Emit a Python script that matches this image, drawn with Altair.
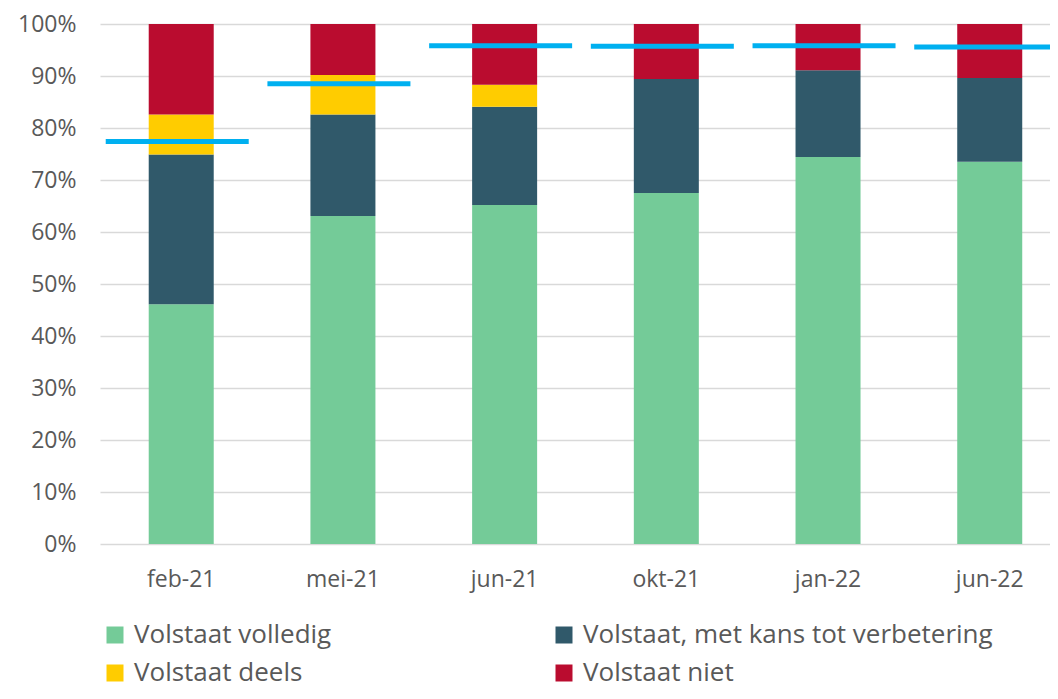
import altair as alt
import pandas as pd

months = ["feb-21", "mei-21", "jun-21", "okt-21", "jan-22", "jun-22"]
series = ["Volstaat volledig", "Volstaat, met kans tot verbetering", "Volstaat deels", "Volstaat niet"]
volledig = [46.1, 63.1, 65.2, 67.5, 74.4, 73.5]
met_kans = [28.8, 19.5, 18.9, 21.9, 16.7, 16.1]
deels = [7.7, 7.6, 4.2, 0.0, 0.0, 0.0]
niet = [17.4, 9.8, 11.7, 10.6, 8.9, 10.4]
norm = [77.4, 88.5, 95.8, 95.7, 95.8, 95.6]
colors = ["#74CB98", "#30596A", "#FFCC00", "#BA0C2F"]

rows = []
for i, m in enumerate(months):
    for j, (s, vals) in enumerate(zip(series, [volledig, met_kans, deels, niet])):
        rows.append({"maand": m, "serie": s, "order": j, "waarde": vals[i] / 100})
bars_df = pd.DataFrame(rows)
norm_df = pd.DataFrame({"maand": months, "norm": [v / 100 for v in norm]})

xscale = alt.Scale(domain=months, paddingInner=0.598, paddingOuter=0.2365, align=0.637)
yscale = alt.Scale(domain=[0, 1])

bars = alt.Chart(bars_df).mark_bar().encode(
    x=alt.X("maand:N", scale=xscale, sort=months,
            axis=alt.Axis(title=None, labelAngle=0, domain=False, ticks=False,
                          labelPadding=24, labelFontSize=23, grid=False)),
    y=alt.Y("waarde:Q", stack="zero", scale=yscale,
            axis=alt.Axis(title=None, format=".0%", values=[i / 10 for i in range(11)],
                          domain=False, ticks=False, labelPadding=24, labelFontSize=23,
                          grid=True, gridColor="#D9D9D9", gridWidth=1.5)),
    color=alt.Color("serie:N", scale=alt.Scale(domain=series, range=colors),
                    legend=alt.Legend(title=None, orient="none", legendX=2, legendY=598,
                                      columns=2, direction="horizontal",
                                      symbolType="square", symbolSize=289,
                                      symbolStrokeWidth=0, labelFontSize=26,
                                      labelOffset=6, rowPadding=12, columnPadding=219,
                                      labelLimit=600)),
    order=alt.Order("order:Q"),
)

ticks = alt.Chart(norm_df).mark_tick(color="#00B0F0", opacity=1, thickness=5, size=143,
                                     orient="horizontal", xOffset=-4).encode(
    x=alt.X("maand:N", scale=xscale, sort=months),
    y=alt.Y("norm:Q", scale=yscale),
)

chart = (bars + ticks).properties(
    width=950, height=520,
    autosize=alt.AutoSizeParams(type="none"),
    padding={"left": 92, "top": 16, "right": 0, "bottom": 147},
).configure(
    font="Open Sans",
).configure_axis(
    labelColor="#595959", labelFont="Open Sans",
).configure_legend(
    labelColor="#595959", labelFont="Open Sans",
).configure_view(stroke=None)

chart.save("out.html", embed_options={"renderer": "svg", "actions": False})
